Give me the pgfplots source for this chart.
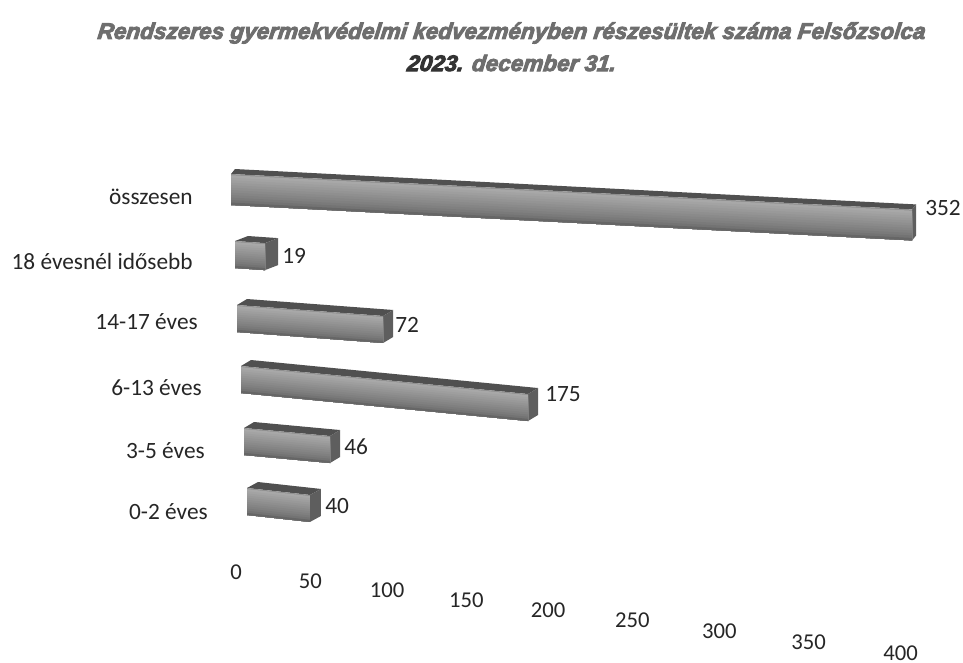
\documentclass[border=0pt]{standalone}
\usepackage{fontspec}
\setmainfont{Carlito}
\newfontfamily\titlefont[FakeBold=4,FakeSlant=0.12]{Liberation Sans Bold Italic}
\usepackage{pgfplots}
\pgfplotsset{compat=1.18}

\definecolor{gtop}{HTML}{505050}
\definecolor{gside}{HTML}{5E5E5E}
\definecolor{titlegrey}{HTML}{6E6E6E}

% every bar has its own slant in the picture, so every bar gets its own axis
% #1 x start, #2 y of lower left corner, #3 px per unit, #4 slope, #5 face height, #6 depth, #7 rise
\newcommand\BarGeom[7]{%
  \def\bx{#1}\def\by{#2}\def\bsx{#3}\def\bsl{#4}\def\bh{#5}\def\bd{#6}\def\br{#7}%
  \pgfmathsetmacro\ux{#3*0.75}%
  \pgfmathsetmacro\uy{-#3*#4*0.75}%
  \pgfmathsetmacro\uh{#5*0.75}%
  \pgfmathsetmacro\dv{#6/#3}%
  \pgfmathsetmacro\ytop{1+(#7)/#5}%
  \pgfmathsetmacro\ytopb{1+(#7+#4*#6)/#5}%
  \pgfmathsetmacro\ybb{(#7+#4*#6)/#5}%
}
\newcommand\Strip[2]{\addplot[fill=black!#2,draw=none] coordinates {(0,0) (\bv,0) (\bv,#1) (0,#1)} --cycle;}
% #1 name, #2 value, #3 right edge of name, #4 y of name, #5 left edge of value label, #6 y of value label
\newcommand\BarRow[6]{%
  \def\bv{#2}%
  \pgfmathsetmacro\vend{#2+\dv}%
  \pgfmathsetmacro\tickpos{(\by-#4)/\bh}%
  \pgfmathsetmacro\nameshift{#3-\bx}%
  \pgfmathsetmacro\lab{(\by-#6+\bsl*\bsx*#2)/\bh}%
  \pgfmathsetmacro\labshift{(#5-\bx-\bsx*#2)*0.75}%
  \coordinate (o) at (\bx,\by);
  \begin{axis}[
    at={(o)},anchor=origin,
    x={(\ux pt,\uy pt)},y={(0pt,\uh pt)},
    xmin=0,xmax=\vend,ymin=0,ymax=\ytopb,
    clip=false,
    axis line style={draw=none},
    major tick length=0pt,
    xtick=\empty,
    ytick={\tickpos},yticklabels={#1},
    yticklabel style={font=\fontsize{17.5}{17.5}\selectfont,text=black!85,anchor=east,inner sep=0pt,xshift=\nameshift*0.75pt},
  ]
    % top and end faces
    \addplot[fill=gtop,draw=none] coordinates {(0,1) (\bv,1) (\vend,\ytopb) (\dv,\ytopb)} --cycle;
    \addplot[fill=gside,draw=none] coordinates {(\bv,0) (\bv,1) (\vend,\ytopb) (\vend,\ybb)} --cycle;
    % front face, painted from the top down
    \Strip{1}{44}
    \Strip{0.96}{34}
    \Strip{0.88}{36}
    \Strip{0.8}{38}
    \Strip{0.72}{40}
    \Strip{0.64}{42}
    \Strip{0.56}{44}
    \Strip{0.48}{46}
    \Strip{0.4}{48}
    \Strip{0.32}{50}
    \Strip{0.24}{52}
    \Strip{0.16}{55}
    \Strip{0.08}{60}
    \addplot[draw=none,mark=none,
      nodes near coords={#2},
      every node near coord/.append style={font=\fontsize{17.5}{17.5}\selectfont,text=black!85,anchor=west,inner sep=0pt,xshift=\labshift pt}]
      coordinates {(#2,\lab)};
  \end{axis}
}

\begin{document}
\begin{tikzpicture}[x=0.75pt,y=-0.75pt]
  \path[use as bounding box] (0,0) rectangle (963,662);

  \node[font=\titlefont\fontsize{16.9}{16.9}\selectfont,text=titlegrey,anchor=center] at (511,33)
    {Rendszeres gyermekvédelmi kedvezményben részesültek száma Felsőzsolca};
  \node[font=\titlefont\fontsize{16.9}{16.9}\selectfont,text=titlegrey,anchor=center] at (511,63)
    {\textcolor{black!80}{2023.} december 31.};

  \BarGeom{231}{205}{1.935}{0.052}{31}{4}{5}
  \BarRow{összesen}{352}{193}{197}{925}{208}
  \BarGeom{235}{268}{1.58}{0.07}{27}{13}{5}
  \BarRow{18 évesnél idősebb}{19}{193}{261}{282}{256}
  \BarGeom{237}{332}{2.03}{0.075}{27}{10}{6}
  \BarRow{14-17 éves}{72}{198}{322}{395}{325}
  \BarGeom{241}{393}{1.64}{0.0976}{27}{10}{6}
  \BarRow{6-13 éves}{175}{202}{388}{545}{394}
  \BarGeom{244}{455}{1.87}{0.093}{27}{10}{6}
  \BarRow{3-5 éves}{46}{205}{451}{344}{447}
  \BarGeom{247}{515}{1.575}{0.11}{27}{11}{6}
  \BarRow{0-2 éves}{40}{208}{512}{325}{506}

  % value axis: its labels run on a steeper line than the bars and spread out to the right
  \coordinate (o) at (236,572);
  \begin{axis}[
    at={(o)},anchor=origin,
    x={(0.75pt,-0.092pt)},y={(0pt,0.75pt)},
    x coord trafo/.code={\pgfmathparse{#1*(1.46+0.0005*#1)}},
    xmin=0,xmax=400,ymin=0,ymax=1,
    clip=false,
    axis line style={draw=none},
    major tick length=0pt,
    ytick=\empty,
    xtick={0,50,...,400},
    xticklabels={0,50,100,150,200,250,300,350,400},
    xticklabel style={font=\fontsize{17}{17}\selectfont,text=black!85,anchor=center,inner sep=0pt},
  ]
    \addplot[draw=none,mark=none] coordinates {(0,0) (400,0)};
  \end{axis}
\end{tikzpicture}
\end{document}
